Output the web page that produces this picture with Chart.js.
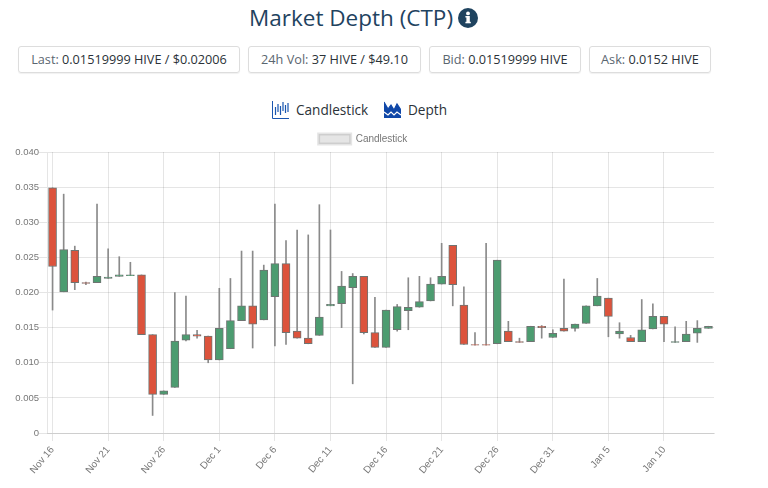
<!DOCTYPE html>
<html>
<head>
<meta charset="utf-8">
<title>Market Depth (CTP)</title>
<script src="https://cdn.jsdelivr.net/npm/chart.js@4"></script>
<style>
  html, body { margin: 0; padding: 0; background: #fff; }
  body { width: 768px; height: 488px; position: relative; overflow: hidden; font-family: "Open Sans", sans-serif; color: #2b3238; }
  .title { position: absolute; left: 249px; top: 1px; font-size: 22.5px; line-height: 34px; color: #1f435f; white-space: nowrap; }
  .title svg { position: absolute; left: 209px; top: 7px; }
  .stat { position: absolute; top: 46px; height: 27px; box-sizing: border-box; line-height: 25px; text-align: center; font-size: 12.7px; border: 1px solid #ddd; border-radius: 3px; box-shadow: 0 1px 1px rgba(0,0,0,0.06); white-space: nowrap; }
  .stat span { color: #5a6670; }
  .tab { position: absolute; top: 100px; font-size: 13.6px; line-height: 20px; color: #2b3238; white-space: nowrap; }
  .tab svg { position: absolute; left: 0; top: 1px; }
  #wrap { position: absolute; left: 0; top: 129px; width: 728px; height: 350px; }
</style>
</head>
<body>
<div class="title">Market Depth (CTP)
  <svg width="20" height="20" viewBox="0 0 20 20"><circle cx="10" cy="10" r="10" fill="#1f435f"/><rect x="8.4" y="8" width="3.4" height="7" fill="#fff"/><rect x="7.4" y="8" width="3" height="1.5" fill="#fff"/><rect x="7.4" y="13.8" width="5.4" height="1.5" fill="#fff"/><circle cx="10" cy="5.4" r="1.9" fill="#fff"/></svg>
</div>
<div class="stat" style="left:18px;width:222px"><span>Last:</span> 0.01519999 HIVE / $0.02006</div>
<div class="stat" style="left:248px;width:173px"><span>24h Vol:</span> 37 HIVE / $49.10</div>
<div class="stat" style="left:429px;width:152px"><span>Bid:</span> 0.01519999 HIVE</div>
<div class="stat" style="left:589px;width:122px"><span>Ask:</span> 0.0152 HIVE</div>
<div class="tab" style="left:272px;padding-left:24px">
  <svg width="17" height="18" viewBox="0 0 17 18" fill="none" stroke="#1a56b0" stroke-width="1"><path d="M0.5 0v17.5H17"/><path d="M3.5 6v8M6 3v8M8.5 5v9M11 1v9M13.500 4v8M16 2v9" stroke-width="1.2"/></svg>
  Candlestick</div>
<div class="tab" style="left:384px;padding-left:24px">
  <svg width="17" height="18" viewBox="0 0 17 18"><path d="M0 1l4 7 3-4 3 5 3-6 4 6v8H0z" fill="#0f47a8"/><path d="M0 1l4 7 3-4 3 5 3-6 4 6" fill="none" stroke="#0f47a8" stroke-width="1.2"/><path d="M0 11l4 3 3-3 3 3 3-3 4 3" fill="none" stroke="#fff" stroke-width="1.2"/></svg>
  Depth</div>
<div id="wrap"><canvas id="chart" width="728" height="350"></canvas></div>
<script>
const dates = [
  'Nov 16','Nov 17','Nov 18','Nov 19','Nov 20','Nov 21','Nov 22','Nov 23','Nov 24','Nov 25','Nov 26','Nov 27','Nov 28','Nov 29','Nov 30',
  'Dec 1','Dec 2','Dec 3','Dec 4','Dec 5','Dec 6','Dec 7','Dec 8','Dec 9','Dec 10','Dec 11','Dec 12','Dec 13','Dec 14','Dec 15','Dec 16',
  'Dec 17','Dec 18','Dec 19','Dec 20','Dec 21','Dec 22','Dec 23','Dec 24','Dec 25','Dec 26','Dec 27','Dec 28','Dec 29','Dec 30','Dec 31',
  'Jan 1','Jan 2','Jan 3','Jan 4','Jan 5','Jan 6','Jan 7','Jan 8','Jan 9','Jan 10','Jan 11','Jan 12','Jan 13','Jan 14'
];
const opens = [
  .0349,.0201,.0260,.0214,.0214,.0220,.0223,.0224,.0225,.0140,.0055,.0065,.0132,.0140,.0138,
  .0104,.0120,.0160,.0181,.0161,.0194,.0241,.0145,.0135,.0139,.0181,.0184,.0207,.0223,.0143,.0122,
  .0147,.0174,.0179,.0188,.0212,.0267,.0182,.0126,.0126,.0127,.0145,.0130,.0130,.0152,.0136,
  .0149,.0149,.0156,.0181,.0192,.0141,.0136,.0130,.0148,.0166,.0129,.0130,.0142,.0149
];
const closes = [
  .0237,.0261,.0214,.0213,.0223,.0222,.0225,.0225,.0140,.0055,.0060,.0131,.0140,.0138,.0104,
  .0149,.0160,.0181,.0155,.0232,.0241,.0143,.0135,.0127,.0165,.0183,.0209,.0223,.0143,.0122,.0175,
  .0180,.0179,.0187,.0212,.0223,.0211,.0126,.0125,.0125,.0246,.0130,.0129,.0152,.0150,.0142,
  .0145,.0155,.0181,.0195,.0166,.0145,.0130,.0147,.0166,.0155,.0130,.0141,.0149,.0152
];
const highs = [
  .0349,.0340,.0266,.0215,.0326,.0262,.0251,.0243,.0225,.0140,.0060,.0200,.0195,.0146,.0138,
  .0206,.0220,.0259,.0259,.0239,.0326,.0274,.0289,.0282,.0325,.0289,.0230,.0227,.0223,.0193,.0175,
  .0183,.0221,.0223,.0221,.0270,.0267,.0208,.0143,.0270,.0246,.0159,.0135,.0152,.0153,.0147,
  .0219,.0155,.0181,.0220,.0192,.0157,.0139,.0190,.0184,.0166,.0151,.0159,.0160,.0152
];
const lows = [
  .0175,.0201,.0204,.0211,.0214,.0220,.0223,.0224,.0140,.0025,.0055,.0065,.0131,.0135,.0100,
  .0104,.0120,.0160,.0121,.0161,.0124,.0126,.0135,.0127,.0139,.0181,.0150,.0070,.0141,.0122,.0122,
  .0145,.0147,.0179,.0188,.0212,.0181,.0126,.0125,.0125,.0127,.0130,.0129,.0130,.0135,.0136,
  .0145,.0145,.0156,.0181,.0137,.0135,.0130,.0130,.0148,.0130,.0129,.0130,.0129,.0149
];
const yTicks = ['0', '0.005', '0.010', '0.015', '0.020', '0.025', '0.030', '0.035', '0.040'];

const palette = {
  up: '#4c9c70',
  down: '#dc533c',
  border: '#6f7472',
  wick: '#8a8a8a',
  grid: 'rgba(0,0,0,0.1)',
  text: '#777'
};

const bodies = dates.map((d, i) => [opens[i], closes[i]]);
const wicks = dates.map((d, i) => [lows[i], highs[i]]);
const colors = dates.map((d, i) => (closes[i] >= opens[i] ? palette.up : palette.down));

// legend sits closer to the plot than Chart.js leaves by default
const tightLegend = {
  id: 'tightLegend',
  beforeInit(chart) {
    const fit = chart.legend.fit;
    chart.legend.fit = function () {
      fit.call(this);
      this.height -= 2;
    };
  }
};

new Chart(document.getElementById('chart'), {
  type: 'bar',
  plugins: [tightLegend],
  data: {
    labels: dates,
    datasets: [
      {
        label: 'Candlestick',
        data: bodies,
        backgroundColor: colors,
        borderColor: palette.border,
        borderWidth: 1,
        borderSkipped: false,
        barThickness: 8,
        grouped: false
      },
      {
        label: 'Wick',
        data: wicks,
        backgroundColor: palette.wick,
        barThickness: 1,
        grouped: false
      }
    ]
  },
  options: {
    responsive: false,
    animation: false,
    layout: { padding: { left: 12, right: 14, bottom: 0, top: 0 } },
    plugins: {
      tooltip: { enabled: false },
      legend: {
        position: 'top',
        labels: {
          boxWidth: 32,
          boxHeight: 10,
          padding: 5,
          color: palette.text,
          font: { family: '"Liberation Sans", Arial, sans-serif', size: 10 },
          generateLabels: () => [{
            text: 'Candlestick',
            fillStyle: 'rgba(0,0,0,0.1)',
            strokeStyle: 'rgba(0,0,0,0.1)',
            lineWidth: 3,
            fontColor: palette.text,
            datasetIndex: 0
          }]
        }
      }
    },
    scales: {
      x: {
        grid: { color: palette.grid, offset: false },
        ticks: {
          color: palette.text,
          font: { family: '"Liberation Sans", Arial, sans-serif', size: 10 },
          minRotation: 50,
          maxRotation: 50,
          autoSkip: true,
          maxTicksLimit: 12
        }
      },
      y: {
        min: 0,
        max: 0.04,
        afterFit: (axis) => { axis.width = 35; },
        grid: { color: palette.grid },
        ticks: {
          color: palette.text,
          stepSize: 0.005,
          padding: 0,
          font: { family: '"Liberation Sans", Arial, sans-serif', size: 9.5 },
          callback: (value) => yTicks[Math.round(value / 0.005)]
        }
      }
    }
  }
});
</script>
</body>
</html>
